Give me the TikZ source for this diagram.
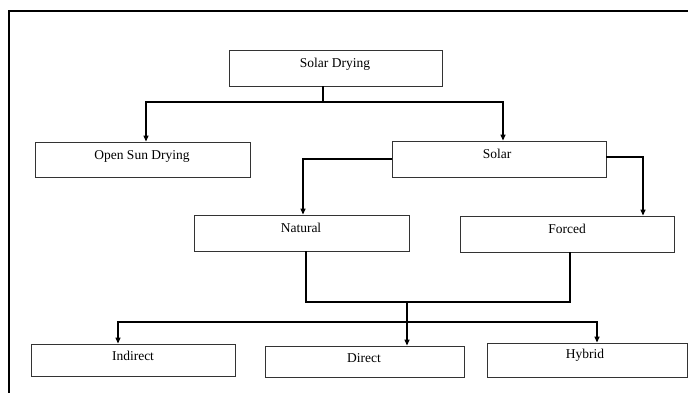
\documentclass[tikz,border=0pt]{standalone}
\usepackage{fontspec}
\setmainfont{Liberation Serif}
\usetikzlibrary{arrows.meta}
\begin{document}
\begin{tikzpicture}[x=1pt,y=-1pt,
  box/.style={draw=black!80, line width=0.9pt, rectangle, inner sep=0pt},
  lbl/.style={font=\fontsize{13.5}{16}\selectfont, inner sep=0pt, anchor=mid},
  conn/.style={line width=1.3pt},
  arr/.style={conn, -{Triangle[length=6pt,width=5pt]}},
  merge/.style={line width=2pt}]
\useasboundingbox (0,0) rectangle (688,393);
\draw[line width=2pt] (9,393) -- (9,11) -- (688,11);
% boxes
\node[box, minimum width=213pt, minimum height=36pt] (sd)   at (335.5,68)  {};
\node[box, minimum width=215pt, minimum height=35pt] (osd)  at (142.5,159.5) {};
\node[box, minimum width=214pt, minimum height=36pt] (sol)  at (499,159)   {};
\node[box, minimum width=215pt, minimum height=36pt] (nat)  at (301.5,233) {};
\node[box, minimum width=214pt, minimum height=36pt] (forc) at (567,234)   {};
\node[box, minimum width=204pt, minimum height=32pt] (ind)  at (133,360)   {};
\node[box, minimum width=199pt, minimum height=31pt] (dir)  at (364.5,361.5) {};
\node[box, minimum width=200pt, minimum height=34pt] (hyb)  at (587,360)   {};
% labels
\node[lbl] (tsd)   at (335,65)  {Solar Drying};
\node[lbl] (tosd)  at (142,157) {Open Sun Drying};
\node[lbl] (tsol)  at (497,156) {Solar};
\node[lbl] (tnat)  at (301,230) {Natural};
\node[lbl] (tforc) at (567,231) {Forced};
\node[lbl] (tind)  at (133,358) {Indirect};
\node[lbl] (tdir)  at (364,360) {Direct};
\node[lbl] (thyb)  at (585,356) {Hybrid};
% connectors
\coordinate (j1) at (323,102);
\coordinate (a1) at (146,102);
\coordinate (a2) at (503,102);
\draw[conn] (sd.south -| j1) -- (j1);
\draw[arr] (j1) -- (a1) -- (osd.north -| a1);
\draw[arr] (j1) -- (a2) -- (sol.north -| a2);
\coordinate (a3) at (303,159);
\draw[arr] (sol.west |- a3) -- (a3) -- (nat.north -| a3);
\coordinate (a4) at (643,157);
\draw[arr] (sol.east |- a4) -- (a4) -- (forc.north -| a4);
\coordinate (m1) at (306,302);
\coordinate (m2) at (570,302);
\draw[merge] (nat.south -| m1) -- (m1) -- (m2) -- (forc.south -| m2);
\coordinate (m3) at (407,302);
\coordinate (j2) at (407,322);
\draw[arr] (m3) -- (dir.north -| m3);
\coordinate (a5) at (118,322);
\coordinate (a6) at (597,322);
\draw[arr] (j2) -- (a5) -- (ind.north -| a5);
\draw[arr] (j2) -- (a6) -- (hyb.north -| a6);
\end{tikzpicture}
\end{document}
